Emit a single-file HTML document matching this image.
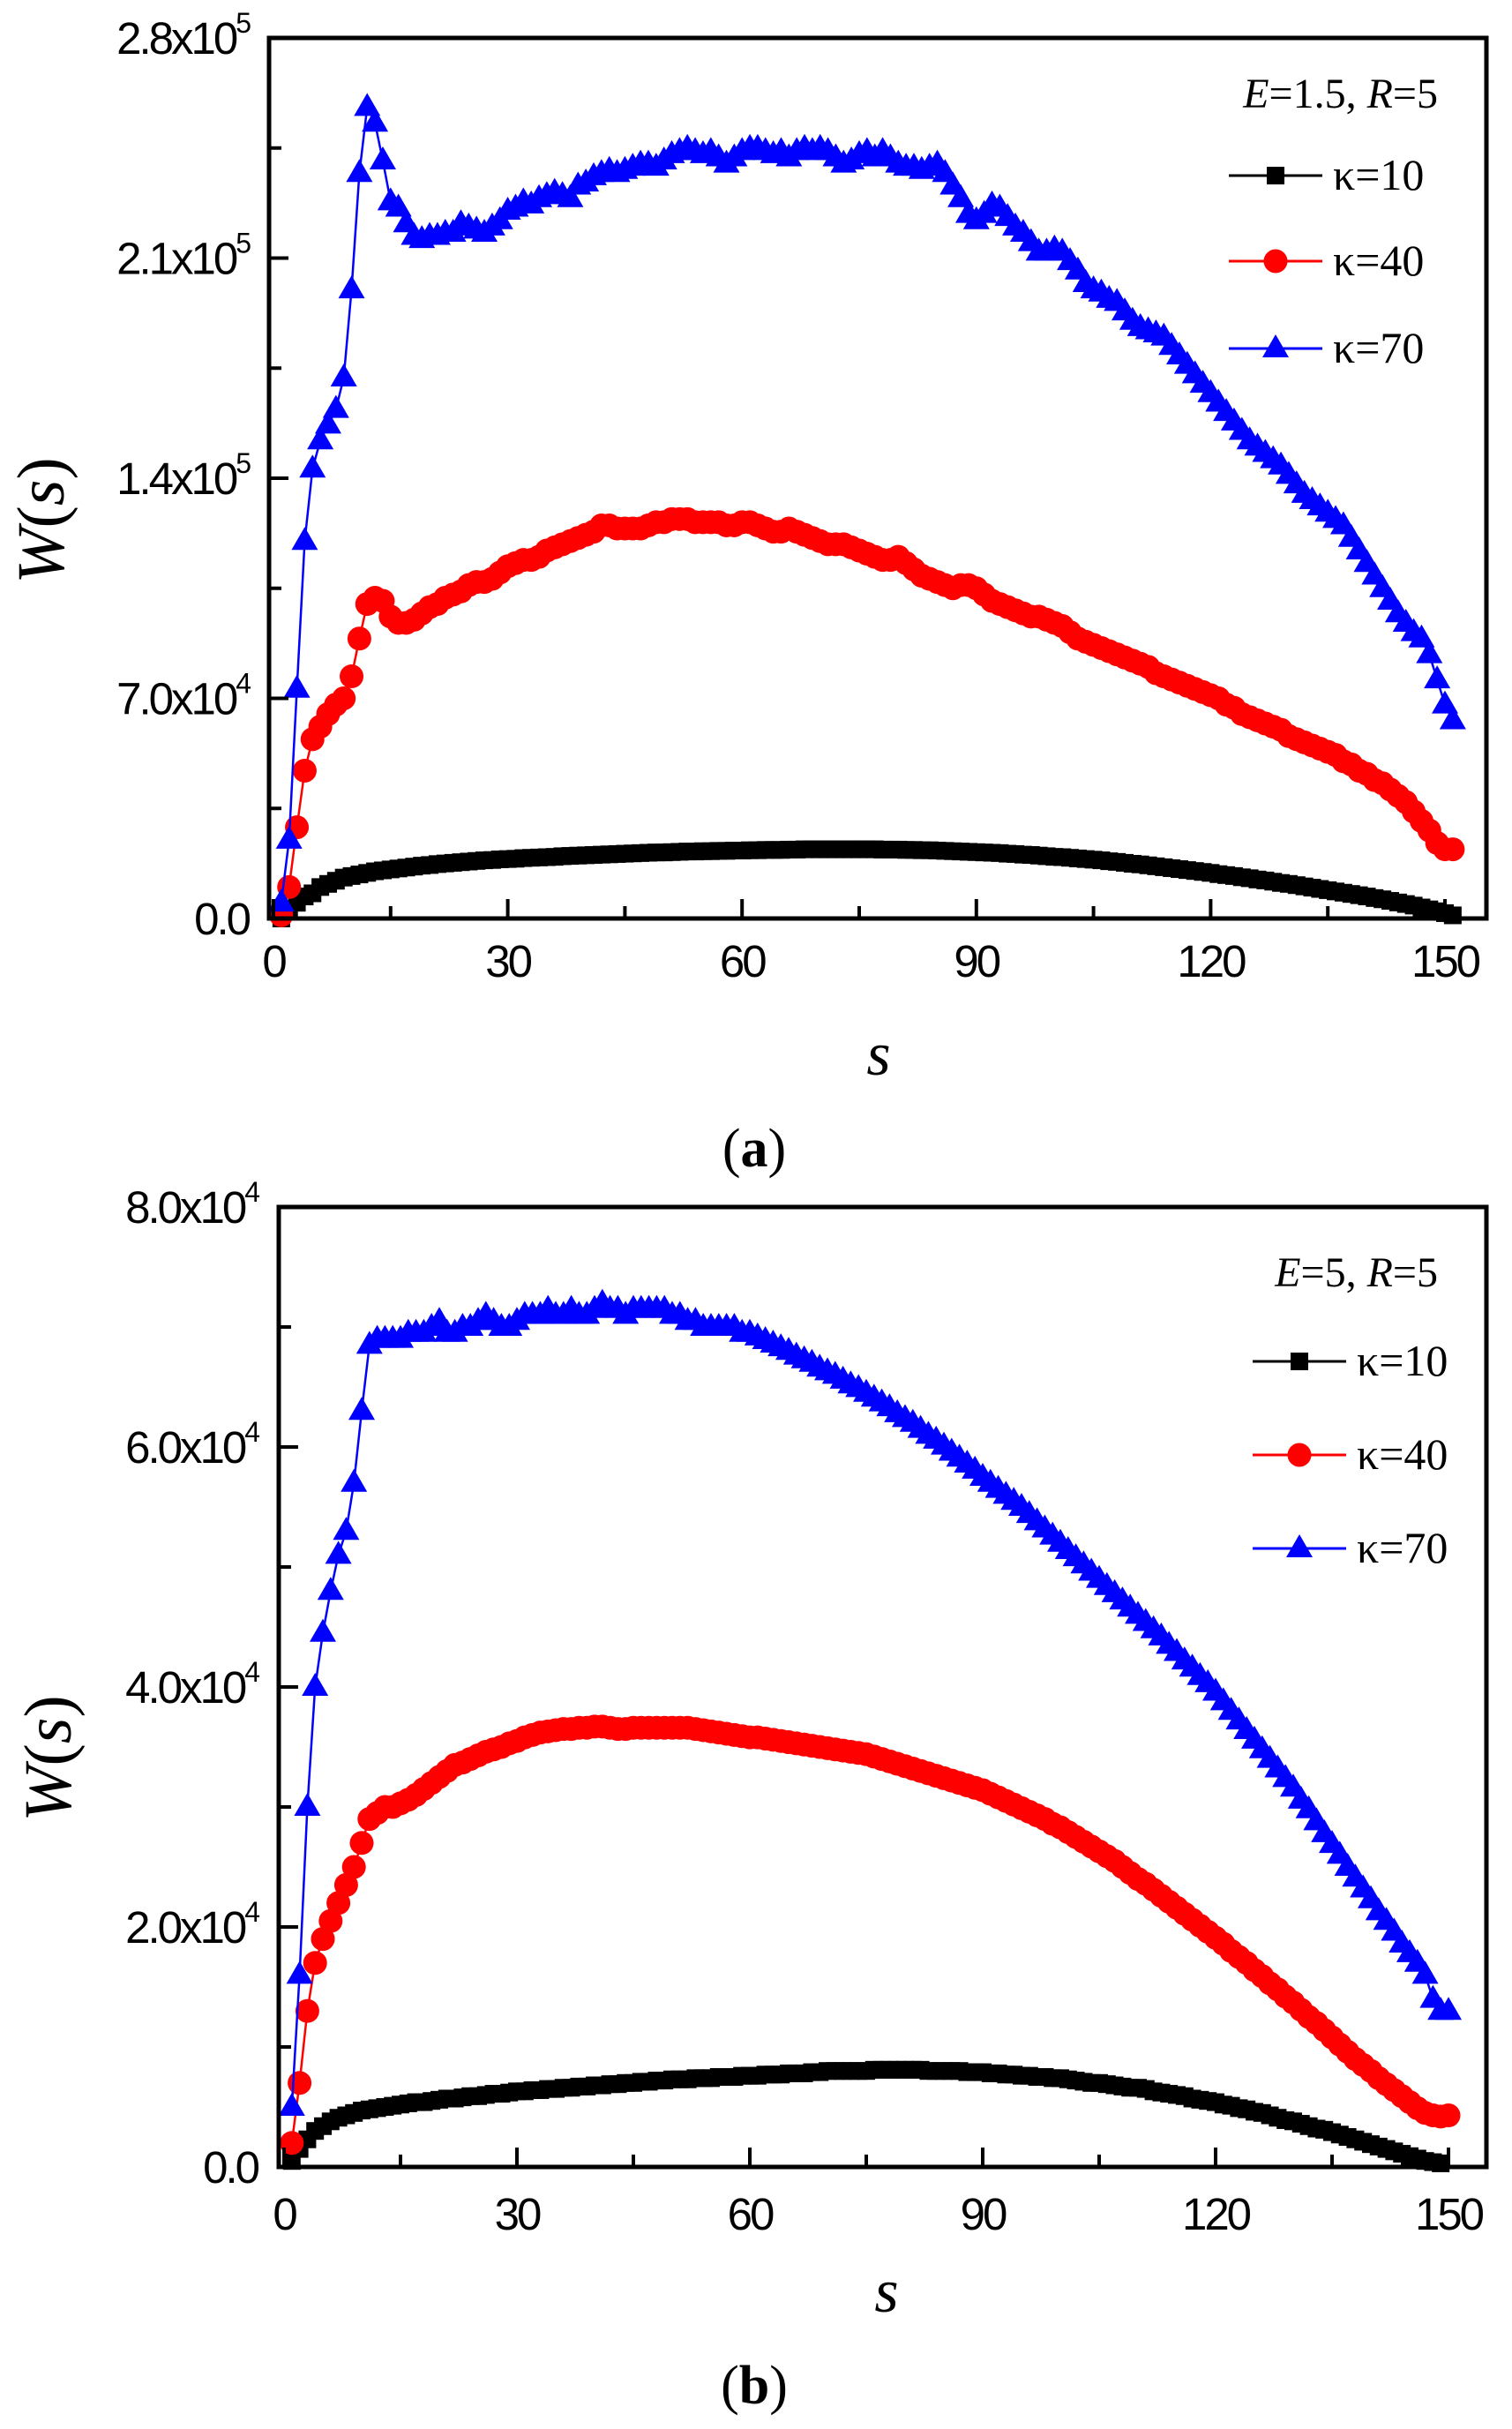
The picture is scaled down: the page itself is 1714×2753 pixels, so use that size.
<!DOCTYPE html>
<html><head><meta charset="utf-8"><style>
html,body{margin:0;padding:0;background:#fff;}
svg{display:block;}
.tk{font-family:"Liberation Sans",sans-serif;font-size:51px;letter-spacing:-3px;}
.sup{font-size:32px;}
.ser{font-family:"Liberation Serif",serif;}
</style></head><body>
<svg id="fig" width="1714" height="2753" viewBox="0 0 1714 2753" xmlns="http://www.w3.org/2000/svg"></svg>
<script>
// ---- Data (W in thousands) ----
const aK10=[0,3,5,7,8,10,11,12,13,13.5,14,14.5,15,15.3,15.6,15.9,16.2,16.5,16.8,17,17.3,17.5,17.7,17.9,18.1,18.3,18.5,18.6,18.8,18.9,19,19.2,19.3,19.4,19.5,19.6,19.8,19.9,20,20.1,20.2,20.3,20.4,20.5,20.6,20.7,20.8,20.9,21,21,21.1,21.2,21.3,21.3,21.4,21.4,21.5,21.5,21.6,21.6,21.7,21.7,21.8,21.8,21.8,21.9,21.9,22,22,22,22,22,22,22,22,22,22,21.9,21.9,21.9,21.8,21.8,21.7,21.7,21.6,21.5,21.4,21.3,21.2,21.1,21,20.9,20.8,20.6,20.5,20.3,20.2,20,19.8,19.6,19.5,19.3,19.1,18.9,18.7,18.5,18.2,18,17.7,17.4,17.2,16.9,16.6,16.3,16,15.7,15.4,15.1,14.8,14.5,14.1,13.8,13.5,13.1,12.8,12.4,12.1,11.7,11.3,11,10.6,10.2,9.8,9.4,9,8.6,8.2,7.8,7.4,7,6.5,6.1,5.6,5.1,4.6,4.1,3.5,2.9,2.3,1.7,1];
const aK40=[1,10,29,47,57,61,65,68,70,77,89,100,102,101,96,94,94,95,97,99,100,102,103,104,106,107,107,108,110,112,113,114,114,115,117,118,119,120,121,122,123,125,125,124,124,124,124,125,126,126,127,127,127,126,126,126,126,125,125,126,126,125,124,123,123,124,123,122,121,120,119,119,119,118,117,116,115,114,114,115,113,111,109,108,107,106,105,106,106,105,103,101,100,99,98,97,96,96,95,94,93,91,89,88,87,86,85,84,83,82,81,80,78,77,76,75,74,73,72,71,70,68,67,65,64,63,62,61,60,58,57,56,55,54,53,52,50,49,47,46,44,43,41,39,37,34,31,28,24,22,22];
const aK70=[5,25,73,120,143,152,157,162,172,200,237,258,253,241,228,226,221,217,216,217,217,218,218,221,220,219,218,220,222,225,226,228,227,229,230,231,230,229,233,234,236,237,238,237,238,239,240,240,239,241,243,244,245,244,243,244,242,240,242,244,245,245,244,243,244,242,244,245,244,245,244,242,240,241,243,244,242,244,242,240,239,239,238,239,240,237,233,229,224,222,224,227,226,223,220,218,215,212,212,213,212,209,206,202,200,199,197,196,193,190,188,187,186,185,182,179,176,173,170,167,164,161,158,155,152,150,148,146,144,141,138,135,133,131,129,127,125,121,117,113,109,105,101,97,94,91,89,84,76,68,63];
const bK10=[0.5,1.5,2.3,3,3.4,3.8,4.1,4.3,4.5,4.7,4.8,4.9,5,5.1,5.2,5.3,5.4,5.4,5.5,5.6,5.7,5.7,5.8,5.9,5.9,6,6.1,6.1,6.2,6.3,6.3,6.4,6.4,6.5,6.5,6.6,6.6,6.7,6.7,6.8,6.8,6.9,6.9,7,7,7.1,7.1,7.2,7.2,7.3,7.3,7.3,7.4,7.4,7.4,7.5,7.5,7.5,7.6,7.6,7.6,7.7,7.7,7.7,7.8,7.8,7.8,7.9,7.9,8,8,8,8,8,8,8.1,8.1,8.1,8.1,8.1,8.1,8.1,8,8,8,8,8,7.9,7.9,7.9,7.8,7.8,7.7,7.7,7.6,7.6,7.5,7.5,7.4,7.4,7.3,7.2,7.1,7,7,6.9,6.8,6.7,6.6,6.6,6.5,6.3,6.2,6.1,6,5.9,5.7,5.6,5.5,5.4,5.2,5.1,4.9,4.8,4.6,4.5,4.3,4.1,3.9,3.8,3.6,3.4,3.2,3.1,2.9,2.7,2.5,2.3,2.1,1.9,1.7,1.5,1.3,1.1,0.9,0.7,0.5,0.4,0.3];
const bK40=[2,7,13,17,19,20.5,22,23.5,25,27,29,29.5,30,30,30.3,30.6,31,31.5,32,32.5,33,33.5,33.7,34,34.3,34.6,34.8,35,35.3,35.5,35.8,36,36.2,36.3,36.4,36.5,36.5,36.6,36.6,36.7,36.7,36.6,36.5,36.5,36.6,36.6,36.6,36.6,36.6,36.6,36.6,36.6,36.5,36.4,36.3,36.2,36.1,36,35.9,35.8,35.8,35.7,35.6,35.5,35.4,35.3,35.2,35.1,35,34.9,34.8,34.7,34.6,34.5,34.4,34.2,34,33.8,33.6,33.4,33.2,33,32.8,32.6,32.4,32.2,32,31.8,31.6,31.4,31.1,30.8,30.5,30.2,29.9,29.6,29.3,29,28.6,28.3,27.9,27.5,27.1,26.7,26.3,25.9,25.5,25,24.5,24,23.6,23.1,22.6,22.1,21.6,21.1,20.6,20.1,19.6,19.1,18.6,18,17.5,17,16.4,15.9,15.3,14.8,14.2,13.7,13.1,12.5,12,11.4,10.8,10.2,9.6,9,8.5,8,7.4,6.9,6.4,5.9,5.4,4.9,4.5,4.3,4.2,4.3];
const bK70=[5,16,30,40,44.5,48,51,53,57,63,68.5,69,69,69,69,69.5,69.5,69.5,70,70.5,69.5,69.5,70,70,70.5,71,70.5,70,70,70.5,71,71,71,71.5,71,71,71.5,71,71,71.5,72,71.5,71.5,71,71.5,71.5,71.5,71.5,71.5,71,71,70.5,70.5,70,70,70,70,70,69.5,69.5,69.2,68.9,68.6,68.3,68,67.6,67.3,67,66.6,66.3,66,65.6,65.2,64.9,64.5,64.1,63.7,63.3,62.8,62.4,62,61.5,61,60.6,60.1,59.6,59.1,58.6,58.1,57.5,57,56.5,56,55.5,55,54.4,53.8,53.2,52.6,52,51.4,50.8,50.2,49.6,49,48.4,47.8,47.2,46.6,46,45.4,44.8,44.2,43.5,42.9,42.2,41.6,40.9,40.3,39.6,38.8,38,37.2,36.4,35.6,34.8,34,33.2,32.4,31.6,30.6,29.8,28.8,27.8,26.9,26,25,24.1,23.2,22.3,21.3,20.5,19.6,18.6,17.8,17,16,14,13,13];
const xTicks=[0,30,60,90,120,150];
const aYTicks=[0,70,140,210,280];
const aYLabels=[["0.0",""],["7.0x10","4"],["1.4x10","5"],["2.1x10","5"],["2.8x10","5"]];
const bYTicks=[0,20,40,60,80];
const bYLabels=[["0.0",""],["2.0x10","4"],["4.0x10","4"],["6.0x10","4"],["8.0x10","4"]];

const NS="http://www.w3.org/2000/svg";
const svg=document.getElementById('fig');
function mk(tag,attrs,parent){const e=document.createElementNS(NS,tag);for(const k in attrs)e.setAttribute(k,attrs[k]);(parent||svg).appendChild(e);return e;}

function panel(cfg){
  const g=mk('g',{});
  
  
  const X=s=>cfg.x0+(cfg.x150-cfg.x0)*s/150;
  const Y=v=>cfg.bottom-(cfg.bottom-cfg.top)*v/cfg.ymax;
  const series=[{d:cfg.k70,c:'#0000ff',m:'tri',n:'k70'},{d:cfg.k40,c:'#ff0000',m:'circ',n:'k40'},{d:cfg.k10,c:'#000000',m:'sq',n:'k10'}];
  const marker=(par,m,c,x,y)=>{
    if(m==='sq') return mk('rect',{x:x-10,y:y-10,width:20,height:20,fill:c},par);
    if(m==='circ') return mk('circle',{cx:x,cy:y,r:13.5,fill:c},par);
    return mk('polygon',{points:`${x},${y-16} ${x-15},${y+10} ${x+15},${y+10}`,fill:c},par);
  };
  [series[2],series[1],series[0]].forEach(se=>{
    const sg=mk('g',{},g);
    
    
    const pts=se.d.map((v,i)=>X(i+1)+','+Y(v)).join(' ');
    mk('polyline',{points:pts,fill:'none',stroke:se.c,'stroke-width':2.5},sg);
    se.d.forEach((v,i)=>{const p=marker(sg,se.m,se.c,X(i+1),Y(v));
      
      });
  });
  const fr=mk('rect',{x:cfg.left,y:cfg.top,width:cfg.right-cfg.left,height:cfg.bottom-cfg.top,fill:'none',stroke:'#000','stroke-width':5},g);
  
  
  for(let s=0;s<=150;s+=15){const maj=s%30===0;mk('line',{x1:X(s),x2:X(s),y1:cfg.bottom,y2:cfg.bottom-(maj?22:14),stroke:'#000','stroke-width':4},g);}
  xTicks.forEach(s=>{const t=mk('text',{x:X(s),y:cfg.xlabY,'text-anchor':'middle',class:'tk'},g);t.textContent=s;
    
    });
  const step=cfg.yTicks[1]/2;
  for(let v=0;v<=cfg.ymax+0.01;v+=step){const maj=Math.round(v/step)%2===0;mk('line',{x1:cfg.left,x2:cfg.left+(maj?22:14),y1:Y(v),y2:Y(v),stroke:'#000','stroke-width':4},g);}
  cfg.yTicks.forEach((v,i)=>{const t=mk('text',{x:cfg.ylabR,y:Y(v)+18,'text-anchor':'end',class:'tk'},g);
    const lab=cfg.yLabels[i];
    const a=mk('tspan',{},t);a.textContent=lab[0];
    if(lab[1]){const b=mk('tspan',{class:'sup',dy:-24},t);b.textContent=lab[1];}
    
    });
  const yt=mk('text',{x:0,y:0,transform:`translate(${cfg.ytX},${cfg.ytY}) rotate(-90)`,'text-anchor':'middle',class:'ser','font-size':76},g);
  yt.innerHTML='<tspan font-style="italic">W</tspan>(<tspan font-style="italic">s</tspan>)';
  
  
  const xt=mk('text',{x:cfg.xtX,y:cfg.xtY,'text-anchor':'middle',class:'ser','font-size':70,'font-style':'italic'},g);
  xt.textContent='s';
  
  
  const pl=mk('text',{x:855,y:cfg.plY,'text-anchor':'middle',class:'ser','font-size':62},g);
  pl.innerHTML='(<tspan font-weight="bold">'+cfg.letter+'</tspan>)';
  
  
  const lg=mk('g',{},g);
  
  
  const ht=mk('text',{x:1630,y:cfg.legHeadY,'text-anchor':'end',class:'ser','font-size':48},lg);
  ht.innerHTML='<tspan font-style="italic">E</tspan>='+cfg.E+', <tspan font-style="italic">R</tspan>=5';
  
  
  [['sq','#000','κ=10'],['circ','#ff0000','κ=40'],['tri','#0000ff','κ=70']].forEach((e,i)=>{
    const y=cfg.legY[i];
    const eg=mk('g',{},lg);
    
    
    mk('line',{x1:cfg.legX,x2:cfg.legX+106,y1:y,y2:y,stroke:e[1],'stroke-width':3},eg);
    marker(eg,e[0],e[1],cfg.legX+53,y);
    const t=mk('text',{x:cfg.legX+118,y:y+16,class:'ser','font-size':50},eg);t.textContent=e[2];
  });
}
panel({name:'panel-a',letter:'a',E:'1.5',left:305,right:1685,top:43,bottom:1041,x0:310,x150:1638,ymax:280,
  k10:aK10,k40:aK40,k70:aK70,yTicks:aYTicks,yLabels:aYLabels,xlabY:1107,ylabR:282,
  ytX:72,ytY:590,xtX:996,xtY:1218,plY:1322,legHeadY:122,legY:[199,296,395],legX:1393});
panel({name:'panel-b',letter:'b',E:'5',left:316,right:1685,top:1368,bottom:2456,x0:322,x150:1642,ymax:80,
  k10:bK10,k40:bK40,k70:bK70,yTicks:bYTicks,yLabels:bYLabels,xlabY:2527,ylabR:292,
  ytX:80,ytY:1993,xtX:1005,xtY:2620,plY:2724,legHeadY:1458,legY:[1543,1649,1755],legX:1420});
</script>
</body></html>
